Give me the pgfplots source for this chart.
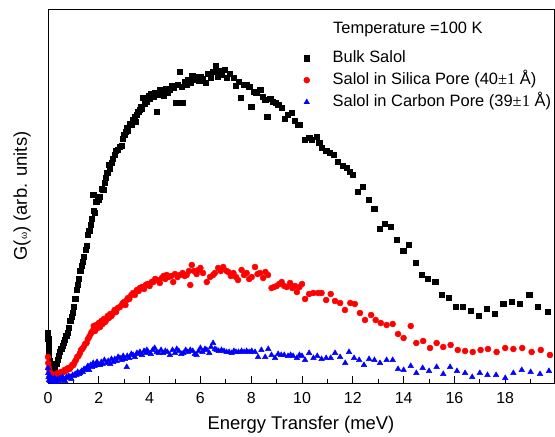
\documentclass[border=0pt]{standalone}
\usepackage{pgfplots}
\pgfplotsset{compat=1.18}
\usepackage{fontspec}
\setmainfont{Liberation Sans}
\newfontfamily\serif{Liberation Serif}

\begin{document}
\begin{tikzpicture}
\begin{axis}[name=ax, scale only axis, width=506bp, height=374bp,
 xmin=0, xmax=19.92, ymin=0, ymax=374,
 xtick={0,2,...,18}, minor xtick={1,3,...,19},
 ytick=\empty,
 xtick pos=left,
 tick align=inside,
 major tick length=7bp, minor tick length=4bp,
 tick style={black, line width=0.8pt},
 axis line style={line width=0.8pt},
 /pgf/number format/assume math mode=true,
 xticklabel style={font=\fontsize{16}{16}\selectfont, anchor=center, yshift=-15bp},
 xlabel={Energy Transfer (meV)},
 ylabel={G({\serif\fontsize{11}{11}\selectfont ω}) (arb. units)},
 label style={font=\fontsize{18.5}{19}\selectfont},
 xlabel style={at={(axis description cs:0.5,0)}, anchor=center, yshift=-42bp},
 ylabel style={at={(axis description cs:-0.0514,0.5)}, anchor=center},
 legend cell align=left,
 legend style={draw=none, fill=none, inner sep=0pt, at={(axis cs:10.06,333)}, anchor=north west,
   font=\fontsize{16.5}{17}\selectfont, row sep=6bp,
   nodes={text height=12bp, text depth=4bp, inner ysep=0pt},
   /tikz/every odd column/.append style={column sep=21bp}},
]
\addplot[only marks, mark=square*, mark size=2.6bp, black] table {
0.00 50
0.01 44
0.02 38
0.03 33
0.04 28
0.08 22
0.12 16
0.17 12
0.22 11
0.27 15
0.32 19
0.37 23
0.42 27
0.47 31
0.52 34
0.57 37
0.62 40
0.67 43
0.72 47
0.77 50
0.82 55
0.87 62
0.92 66
0.97 70
1.02 76
1.07 84
1.12 93
1.17 98
1.22 104
1.27 112
1.32 117
1.37 121
1.42 126
1.47 133
1.52 137
1.57 148
1.62 152
1.67 158
1.72 164
1.78 188
1.80 172
1.85 170
1.90 181
1.95 184
1.98 183
2.05 186
2.10 194
2.17 193
2.22 200
2.28 205
2.33 210
2.40 218
2.44 214
2.50 220
2.56 224
2.62 228
2.68 232
2.75 233
2.82 236
2.90 237
2.95 244
3.00 248
3.05 251
3.10 255
3.15 252
3.22 259
3.30 258
3.35 263
3.40 266
3.45 261
3.50 268
3.55 271
3.60 273
3.65 276
3.70 274
3.75 285
3.80 279
3.85 283
3.90 281
3.95 287
4.00 284
4.05 289
4.10 286
4.14 286
4.20 290
4.28 271
4.33 288
4.40 293
4.48 291
4.55 287
4.62 294
4.70 290
4.80 293
4.88 297
4.95 295
5.05 280
5.12 298
5.20 311
5.25 296
5.30 280
5.38 301
5.45 298
5.52 303
5.60 300
5.68 307
5.75 303
5.85 306
5.95 302
6.00 306
6.10 304
6.20 300
6.30 309
6.40 305
6.50 311
6.60 317
6.68 306
6.75 312
6.85 308
6.95 313
7.05 305
7.15 309
7.30 305
7.40 297
7.50 301
7.60 285
7.70 298
7.82 298
7.92 296
8.00 276
8.10 291
8.20 290
8.35 293
8.45 286
8.55 283
8.63 266
8.75 284
8.86 281
8.96 280
9.06 278
9.20 275
9.33 264
9.45 268
9.60 270
9.72 262
9.82 258
9.92 258
10.12 243
10.28 245
10.38 243
10.58 246
10.68 240
10.77 235
10.95 232
11.10 230
11.25 228
11.42 221
11.60 217
11.76 215
11.88 211
12.00 208
12.20 191
12.40 196
12.64 183
12.84 174
13.07 154
13.27 159
13.50 156
13.74 143
13.98 132
14.20 138
14.47 120
14.70 108
14.96 104
15.24 101
15.50 88
15.79 85
16.05 76
16.34 76
16.64 72
16.97 67
17.27 74
17.60 69
17.92 79
18.25 81
18.58 79
18.94 88
19.29 76
19.67 71
};
\addlegendentry{Bulk Salol}
\addplot[only marks, mark=*, mark size=3bp, draw=red, fill=red] table {
0.00 26
0.01 20
0.03 15
0.06 12
0.10 9
0.15 8
0.20 8
0.25 7
0.30 9
0.35 8
0.40 10
0.45 9
0.50 11
0.55 10
0.60 11
0.65 13
0.70 12
0.75 14
0.80 15
0.85 14
0.90 16
0.95 18
1.00 18
1.05 21
1.10 23
1.15 26
1.20 27
1.26 30
1.30 33
1.35 34
1.40 36
1.46 39
1.52 40
1.57 44
1.62 46
1.68 49
1.72 51
1.78 53
1.80 57
1.85 52
1.90 58
1.95 55
2.00 60
2.05 56
2.10 62
2.15 59
2.20 64
2.25 61
2.30 63
2.35 67
2.40 65
2.45 69
2.50 67
2.57 70
2.62 73
2.68 71
2.75 75
2.83 76
2.90 78
2.95 80
3.00 81
3.05 78
3.10 83
3.15 85
3.20 84
3.28 88
3.35 90
3.42 88
3.50 93
3.57 92
3.62 95
3.70 96
3.78 94
3.85 98
3.92 99
4.00 97
4.08 101
4.15 101
4.22 104
4.30 103
4.40 100
4.48 105
4.55 107
4.62 104
4.67 108
4.75 106
4.85 107
4.93 101
5.00 109
5.10 106
5.20 108
5.30 110
5.38 107
5.46 108
5.55 112
5.60 98
5.66 118
5.75 112
5.85 109
5.92 113
6.00 115
6.10 110
6.25 101
6.38 106
6.50 108
6.57 110
6.70 115
6.80 112
6.90 116
7.03 112
7.10 111
7.20 107
7.30 110
7.40 106
7.48 103
7.62 113
7.72 108
7.82 110
7.92 104
8.02 106
8.15 116
8.25 109
8.35 110
8.47 105
8.56 111
8.66 108
8.80 95
8.90 96
9.00 97
9.10 99
9.20 101
9.30 97
9.40 96
9.53 100
9.62 95
9.72 97
9.80 91
9.90 96
10.00 99
10.12 84
10.28 89
10.45 90
10.63 90
10.77 90
10.95 83
11.13 89
11.30 82
11.50 80
11.69 73
11.90 80
12.08 79
12.28 70
12.48 63
12.72 68
12.90 63
13.10 60
13.33 58
13.57 59
13.78 49
14.00 45
14.28 57
14.50 40
14.77 42
15.04 35
15.30 40
15.56 36
15.85 38
16.13 33
16.42 32
16.72 31
17.03 33
17.32 34
17.66 31
18.00 35
18.32 34
18.67 35
19.04 31
19.40 33
19.76 28
};
\addlegendentry{Salol in Silica Pore (40{\serif ±1} Å)}
\addplot[only marks, mark=triangle*, mark size=3.2bp, draw=blue, fill=blue] table {
0.00 15
0.01 10
0.02 6
0.04 3
0.06 8
0.08 2
0.10 5
0.14 1
0.18 4
0.22 2
0.26 5
0.30 3
0.34 1
0.38 4
0.42 2
0.47 5
0.52 3
0.57 6
0.62 4
0.67 2
0.72 6
0.77 5
0.82 7
0.87 6
0.92 4
0.97 8
1.02 7
1.07 9
1.12 8
1.17 11
1.22 9
1.26 10
1.32 12
1.37 11
1.42 14
1.47 13
1.52 15
1.57 17
1.62 13
1.68 18
1.73 16
1.78 20
1.83 17
1.88 19
1.93 21
1.98 18
2.05 18
2.10 21
2.15 19
2.22 23
2.30 20
2.37 22
2.45 19
2.50 24
2.57 21
2.63 24
2.70 22
2.76 26
2.83 25
2.90 23
2.96 27
3.02 24
3.10 16
3.12 27
3.20 25
3.28 29
3.35 28
3.42 26
3.50 30
3.58 29
3.62 31
3.70 28
3.78 32
3.85 30
3.89 33
3.95 31
4.05 29
4.12 33
4.20 35
4.28 31
4.36 30
4.45 33
4.53 30
4.62 32
4.70 31
4.80 28
4.90 33
5.00 30
5.07 34
5.15 32
5.25 29
5.33 30
5.42 33
5.50 31
5.60 33
5.70 32
5.78 29
5.85 28
5.93 32
6.00 35
6.08 31
6.18 34
6.25 33
6.35 30
6.42 36
6.50 40
6.57 34
6.64 33
6.72 32
6.83 33
6.93 32
7.03 31
7.13 31
7.23 30
7.32 32
7.40 31
7.50 31
7.62 32
7.72 31
7.82 32
7.92 31
8.02 32
8.15 31
8.27 26
8.40 33
8.55 26
8.67 34
8.80 28
8.94 25
9.06 29
9.18 28
9.30 28
9.45 27
9.55 28
9.65 27
9.80 25
9.90 28
10.00 27
10.12 23
10.28 30
10.45 25
10.60 27
10.77 24
10.95 25
11.13 25
11.30 30
11.50 26
11.70 20
11.85 31
12.05 25
12.25 23
12.44 18
12.64 24
12.85 23
13.07 20
13.33 23
13.57 23
13.78 14
14.00 13
14.28 17
14.50 10
14.75 15
15.00 12
15.30 16
15.56 9
15.83 16
16.10 12
16.42 10
16.70 6
17.00 10
17.30 8
17.64 8
18.00 5
18.32 10
18.65 13
19.00 11
19.37 9
19.72 12
};
\addlegendentry{Salol in Carbon Pore (39{\serif ±1} Å)}
\node[anchor=west, font=\fontsize{16.5}{17}\selectfont, inner sep=0pt] at (axis cs:11.22,354) {Temperature =100 K};
\end{axis}
\pgfresetboundingbox
\path[use as bounding box] ([xshift=-48bp,yshift=-54bp]ax.south west) rectangle ([xshift=1bp,yshift=9bp]ax.north east);
\end{tikzpicture}
\end{document}
